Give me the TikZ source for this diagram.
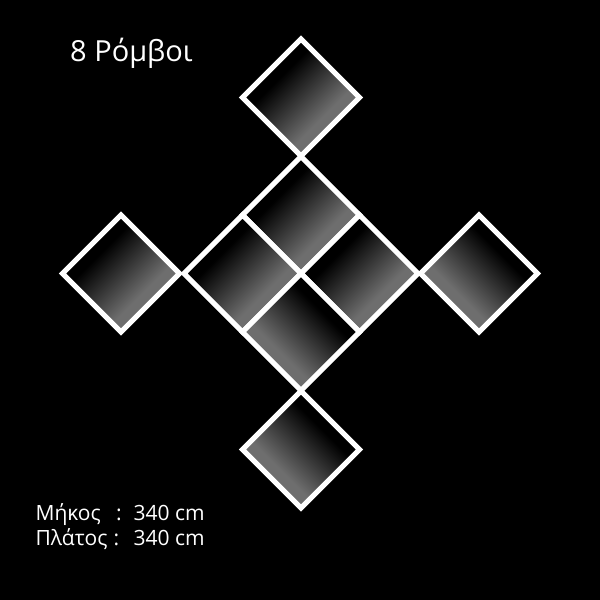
\documentclass[tikz,border=0pt]{standalone}
\usepackage{fontspec}
\setmainfont{Open Sans}
\definecolor{lite}{RGB}{110,110,110}
\pgfdeclareverticalshading{rhsh}{100bp}{color(0bp)=(lite); color(37.5bp)=(lite); color(62.5bp)=(black); color(100bp)=(black)}
\tikzset{
  rh/.style={draw=white, line width=5pt, line join=miter, shape=rectangle,
    minimum size=82.73pt, inner sep=0pt, outer sep=0pt, shading=rhsh},
  rhA/.style={rh, rotate=45, shading angle=45},
  rhB/.style={rh, rotate=-45, shading angle=-45},
  lbl/.style={text=white, inner sep=0pt, anchor=base west,
    font=\fontsize{21}{25}\selectfont},
  ttl/.style={lbl, font=\fontsize{29}{34}\selectfont}
}
\begin{document}
\begin{tikzpicture}[x=1pt,y=-1pt]
  \fill[black] (0,0) rectangle (600,600);
  \useasboundingbox (0,0) rectangle (600,600);
  % central cluster
  \node[rhA] (ct) at (301,215) {};
  \node[rhA] (cl) at (242.5,273.5) {};
  \node[rhA] (cr) at (359.5,273.5) {};
  \node[rhB] (cb) at (301,332) {};
  % outer rhombi
  \node[rhA] (ot) at (301,97.5) {};
  \node[rhA] (ol) at (121,273.5) {};
  \node[rhB] (or) at (479,273.5) {};
  \node[rhB] (ob) at (301,449.5) {};
  % texts
  \node[ttl] (title) at (70,61) {8 Ρόμβοι};
  \node[lbl] (l1) at (35.4,520) {Μήκος};
  \node[lbl] (c1) at (116,520) {:};
  \node[lbl] (v1) at (133.5,520) {340 cm};
  \node[lbl] (l2) at (35.4,545) {Πλάτος};
  \node[lbl] (c2) at (113.5,545) {:};
  \node[lbl] (v2) at (133.5,545) {340 cm};
\end{tikzpicture}
\end{document}
